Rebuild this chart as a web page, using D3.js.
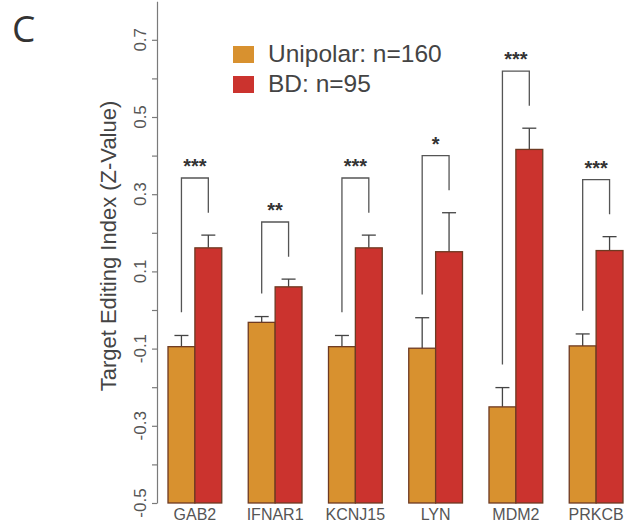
<!DOCTYPE html>
<html>
<head>
<meta charset="utf-8">
<script src="https://cdn.jsdelivr.net/npm/d3@7"></script>
<style>
  body { margin: 0; background: #fff; }
  svg { display: block; }
</style>
</head>
<body>
<svg id="chart" width="625" height="522"></svg>
<script>
// ---- data ----
const genes = ["GAB2", "IFNAR1", "KCNJ15", "LYN", "MDM2", "PRKCB"];
const series = ["Unipolar: n=160", "BD: n=95"];
const unipolar = [-0.095, -0.032, -0.095, -0.099, -0.251, -0.093];
const unipolarErr = [0.029, 0.015, 0.029, 0.079, 0.050, 0.031];
const bd = [0.161, 0.060, 0.161, 0.151, 0.416, 0.154];
const bdErr = [0.033, 0.020, 0.033, 0.101, 0.055, 0.036];
const significance = ["***", "**", "***", "*", "***", "***"];
const yTicks = [-0.5, -0.4, -0.3, -0.2, -0.1, 0, 0.1, 0.2, 0.3, 0.4, 0.5, 0.6, 0.7];
const yTickLabels = ["-0.5", "", "-0.3", "", "-0.1", "", "0.1", "", "0.3", "", "0.5", "", "0.7"];

const colors = ["#D8912F", "#CB332E"];
const font = "'Liberation Sans', Arial, sans-serif";

const svg = d3.select("#chart");

const y = d3.scaleLinear().domain([-0.5, 0.8]).range([503, 1.2]);
const x = d3.scaleBand().domain(genes).range([168, 623]).paddingInner(0.33).paddingOuter(0);
const xs = d3.scaleBand().domain([0, 1]).range([0, x.bandwidth()]).padding(0);

// y axis
const yAxis = d3.axisLeft(y).tickValues(yTicks).tickSize(5).tickSizeOuter(0).tickFormat("");
const gy = svg.append("g").attr("transform", "translate(157,0)").call(yAxis);
gy.selectAll("path, line").attr("stroke", "#7a7a7a").attr("stroke-width", 1.2);

svg.append("g").selectAll("text").data(yTicks).join("text")
  .attr("transform", d => `translate(146,${y(d)}) rotate(-90)`)
  .attr("text-anchor", "middle")
  .attr("font-family", font).attr("font-size", 17).attr("fill", "#555")
  .text((d, i) => yTickLabels[i]);

svg.append("text")
  .attr("transform", "translate(116,246) rotate(-90)")
  .attr("text-anchor", "middle")
  .attr("font-family", font).attr("font-size", 22).attr("fill", "#444")
  .text("Target Editing Index (Z-Value)");

// bars
const rows = genes.map((g, i) => ({
  gene: g, i,
  vals: [unipolar[i], bd[i]],
  errs: [unipolarErr[i], bdErr[i]],
  sig: significance[i]
}));

const groups = svg.append("g").selectAll("g").data(rows).join("g")
  .attr("transform", d => `translate(${x(d.gene)},0)`);

// error bars (upward)
groups.each(function(d) {
  const g = d3.select(this);
  [0, 1].forEach(k => {
    const cx = xs(k) + xs.bandwidth() / 2;
    g.append("line")
      .attr("x1", cx).attr("x2", cx)
      .attr("y1", y(d.vals[k])).attr("y2", y(d.vals[k] + d.errs[k]))
      .attr("stroke", "#444").attr("stroke-width", 1.3);
    g.append("line")
      .attr("x1", cx - 7).attr("x2", cx + 7)
      .attr("y1", y(d.vals[k] + d.errs[k])).attr("y2", y(d.vals[k] + d.errs[k]))
      .attr("stroke", "#444").attr("stroke-width", 1.3);
  });
});

groups.selectAll("rect").data(d => d.vals.map((v, k) => ({ v, k }))).join("rect")
  .attr("x", d => xs(d.k))
  .attr("width", xs.bandwidth())
  .attr("y", d => y(d.v))
  .attr("height", d => y(-0.5) - y(d.v))
  .attr("fill", d => colors[d.k])
  .attr("stroke", "#6e3a22").attr("stroke-width", 1.3);

// significance brackets
groups.each(function(d) {
  const g = d3.select(this);
  const lx = xs(0) + xs.bandwidth() / 2;
  const rx = xs(1) + xs.bandwidth() / 2;
  const lStart = d.vals[0] + d.errs[0] + 0.06;
  const rStart = d.vals[1] + d.errs[1] + 0.058;
  const top = Math.max(lStart, rStart) + 0.09;
  g.append("path")
    .attr("d", `M${lx},${y(lStart)}V${y(top)}H${rx}V${y(rStart)}`)
    .attr("fill", "none").attr("stroke", "#555").attr("stroke-width", 1.3);
  g.append("text")
    .attr("x", (lx + rx) / 2).attr("y", y(top) - 5)
    .attr("text-anchor", "middle")
    .attr("font-family", font).attr("font-size", 20).attr("font-weight", "bold").attr("fill", "#333")
    .text(d.sig);
});

// x labels
svg.append("g").selectAll("text").data(genes).join("text")
  .attr("x", d => x(d) + x.bandwidth() / 2)
  .attr("y", 520)
  .attr("text-anchor", "middle")
  .attr("font-family", font).attr("font-size", 16).attr("fill", "#555")
  .text(d => d);

// legend
const leg = svg.append("g").selectAll("g").data(series).join("g")
  .attr("transform", (d, i) => `translate(233,${46 + i * 30})`);
leg.append("rect").attr("width", 21).attr("height", 17).attr("fill", (d, i) => colors[i]);
leg.append("text").attr("x", 35).attr("y", 16)
  .attr("font-family", font).attr("font-size", 24.5).attr("fill", "#444")
  .text(d => d);

// panel letter
svg.append("text").attr("x", 12).attr("y", 42)
  .attr("font-family", "'Open Sans', sans-serif").attr("font-size", 37).attr("fill", "#333")
  .text("C");
</script>
</body>
</html>
